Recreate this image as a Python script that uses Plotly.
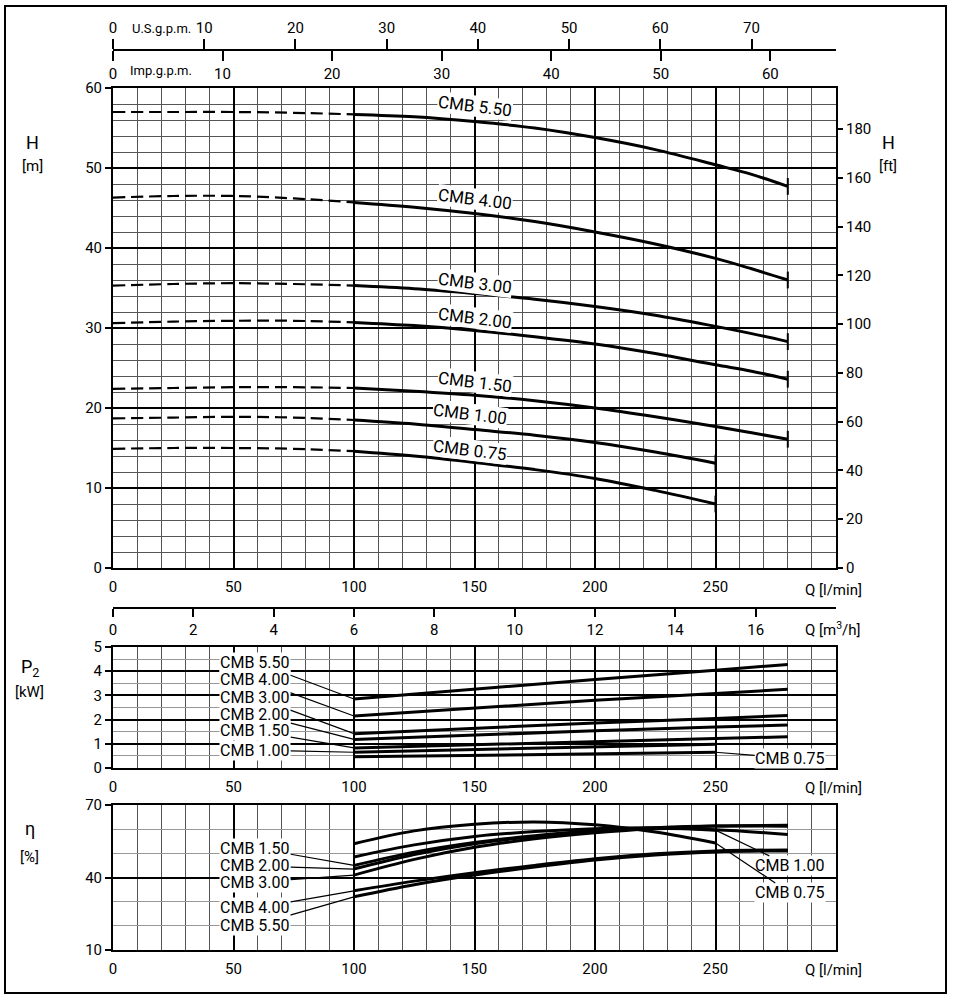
import plotly.graph_objects as go

W, H = 953, 1000
FONT = "Roboto, Liberation Sans, sans-serif"

models = ["CMB 5.50", "CMB 4.00", "CMB 3.00", "CMB 2.00", "CMB 1.50", "CMB 1.00", "CMB 0.75"]

# --- head curves, Q [l/min] vs H [m] ---
q_head = [0, 25, 50, 75, 100, 125, 150, 175, 200, 225, 250, 265, 280]
h_550 = [57.0, 57.0, 57.0, 56.9, 56.7, 56.4, 55.8, 55.0, 53.8, 52.3, 50.4, 49.2, 47.7]
h_400 = [46.3, 46.5, 46.5, 46.2, 45.7, 45.1, 44.3, 43.3, 42.0, 40.5, 38.7, 37.4, 36.0]
h_300 = [35.3, 35.5, 35.6, 35.5, 35.3, 34.9, 34.3, 33.6, 32.7, 31.6, 30.2, 29.3, 28.3]
h_200 = [30.6, 30.8, 30.9, 30.9, 30.7, 30.3, 29.7, 28.9, 28.0, 26.8, 25.4, 24.6, 23.6]
h_150 = [22.4, 22.5, 22.6, 22.6, 22.5, 22.1, 21.6, 20.9, 20.0, 18.9, 17.7, 16.9, 16.1]
h_100 = [18.7, 18.8, 18.9, 18.8, 18.5, 18.0, 17.3, 16.6, 15.7, 14.5, 13.1, None, None]
h_075 = [14.9, 15.0, 15.0, 14.9, 14.6, 14.0, 13.2, 12.3, 11.2, 9.7, 8.0, None, None]
head = [h_550, h_400, h_300, h_200, h_150, h_100, h_075]
head_lbl_x = [150, 150, 150, 150, 150, 148, 148]
head_lbl_y = [57.7, 46.1, 35.6, 31.3, 23.2, 19.2, 14.8]

# --- power curves P2 [kW] ---
q_p2 = [100, 150, 200, 250, 280]
p_550 = [2.85, 3.26, 3.66, 4.04, 4.28]
p_400 = [2.15, 2.48, 2.80, 3.08, 3.25]
p_300 = [1.42, 1.65, 1.86, 2.05, 2.17]
p_200 = [1.18, 1.37, 1.54, 1.69, 1.78]
p_150 = [0.83, 0.97, 1.10, 1.22, 1.29]
p_100 = [0.65, 0.76, 0.88, 0.98, None]
p_075 = [0.46, 0.53, 0.60, 0.65, None]
power = [p_550, p_400, p_300, p_200, p_150, p_100, p_075]
p2_lbl_x = [59, 59, 59, 59, 59, 59, 281]
p2_lbl_y = [4.38, 3.64, 2.93, 2.23, 1.53, 0.74, 0.40]

# --- efficiency curves eta [%] ---
q_eff = [100, 125, 150, 175, 200, 225, 250, 280]
e_550 = [32.0, 37.0, 41.0, 44.3, 47.2, 49.3, 50.6, 51.0]
e_400 = [34.5, 38.5, 42.0, 45.0, 47.8, 49.8, 51.0, 51.4]
e_300 = [41.0, 47.5, 52.5, 56.0, 58.5, 60.3, 61.3, 61.6]
e_200 = [43.5, 49.5, 54.0, 57.0, 59.2, 60.6, 61.3, 61.2]
e_150 = [45.0, 50.5, 54.5, 57.3, 59.3, 60.2, 59.8, 57.8]
e_100 = [48.5, 53.5, 57.0, 59.0, 60.2, 60.6, 59.6, None]
e_075 = [54.0, 59.3, 62.0, 63.0, 61.8, 58.8, 54.3, None]
eff = [e_550, e_400, e_300, e_200, e_150, e_100, e_075]
eff_lbl_x = [59, 59, 59, 59, 59, 281, 281]
eff_lbl_y = [20.3, 27.4, 38.1, 44.8, 52.2, 44.8, 33.6]

# unit conversions for the secondary scales
L_PER_USGAL = 3.785
L_PER_IMPGAL = 4.546
M_PER_FT = 0.3048
Q_MAX = 300


def px_x(p):
    return p / W


def px_y(p):
    return 1 - p / H


def valid(xs, ys):
    pts = [(a, b) for a, b in zip(xs, ys) if b is not None]
    return [a for a, _ in pts], [b for _, b in pts]


fig = go.Figure()

# head: dashed below 100 l/min, solid beyond, end ticks
i100 = q_head.index(100)
for h in head:
    fig.add_trace(go.Scatter(x=q_head[:i100 + 1], y=h[:i100 + 1], mode="lines",
                             line=dict(color="black", width=2.2, dash="12px,6px", shape="spline"),
                             xaxis="x", yaxis="y", hoverinfo="skip"))
    xs, ys = valid(q_head[i100:], h[i100:])
    fig.add_trace(go.Scatter(x=xs, y=ys, mode="lines",
                             line=dict(color="black", width=3, shape="spline"),
                             xaxis="x", yaxis="y", hoverinfo="skip"))
    fig.add_trace(go.Scatter(x=[xs[0], xs[-1]], y=[ys[0], ys[-1]], mode="markers",
                             marker=dict(symbol="line-ns-open", size=12, color="black",
                                         line=dict(color="black", width=2)),
                             xaxis="x", yaxis="y", hoverinfo="skip"))

for p in power:
    xs, ys = valid(q_p2, p)
    fig.add_trace(go.Scatter(x=xs, y=ys, mode="lines", line=dict(color="black", width=3),
                             xaxis="x2", yaxis="y2", hoverinfo="skip"))

for e in eff:
    xs, ys = valid(q_eff, e)
    fig.add_trace(go.Scatter(x=xs, y=ys, mode="lines", line=dict(color="black", width=3, shape="spline"),
                             xaxis="x3", yaxis="y3", hoverinfo="skip"))

# empty traces so the extra scales get drawn
for xa, ya in [("x4", "y"), ("x5", "y"), ("x6", "y2"), ("x", "y4")]:
    fig.add_trace(go.Scatter(x=[], y=[], xaxis=xa, yaxis=ya, hoverinfo="skip"))

ann = []
for m, x, y in zip(models, head_lbl_x, head_lbl_y):
    ann.append(dict(x=x, y=y, xref="x", yref="y", text=m, showarrow=False, textangle=7,
                    bgcolor="white", borderpad=0, font=dict(size=17)))

# leader labels: tip at curve start (left group) or curve end (right group)
leader = dict(showarrow=True, arrowhead=0, arrowwidth=1.2, arrowcolor="black", standoff=0,
              bgcolor="white", borderpad=0, font=dict(size=16))
for m, p, lx, ly in zip(models, power, p2_lbl_x, p2_lbl_y):
    xs, ys = valid(q_p2, p)
    tx, ty = (xs[0], ys[0]) if lx < 100 else (xs[-1], ys[-1])
    ann.append(dict(leader, x=tx, y=ty, xref="x2", yref="y2", ax=lx, ay=ly, axref="x2",
                    ayref="y2", text=m))
for m, e, lx, ly in zip(models, eff, eff_lbl_x, eff_lbl_y):
    xs, ys = valid(q_eff, e)
    tx, ty = (xs[0], ys[0]) if lx < 100 else (xs[-1], ys[-1])
    ann.append(dict(leader, x=tx, y=ty, xref="x3", yref="y3", ax=lx, ay=ly, axref="x3",
                    ayref="y3", text=m))

# axis titles / units as free text
texts = [
    ("U.S.g.p.m.", 161, 28, 13), ("Imp.g.p.m.", 161, 70, 13),
    ("H", 32, 142, 18), ("[m]", 32, 166, 15), ("H", 888, 142, 18), ("[ft]", 888, 166, 15),
    ("P<sub>2</sub>", 30, 668, 18), ("[kW]", 30, 692, 15),
    ("η", 30, 828, 18), ("[%]", 30, 857, 15),
    ("Q [l/min]", 833, 590, 15), ("Q [m<sup>3</sup>/h]", 833, 629, 15),
    ("Q [l/min]", 833, 788, 15), ("Q [l/min]", 833, 970, 15),
]
for t, x, y, s in texts:
    ann.append(dict(x=px_x(x), y=px_y(y), xref="paper", yref="paper", text=t, showarrow=False,
                    xanchor="center", yanchor="middle", font=dict(size=s)))

dom_x = [px_x(113), px_x(836)]
minor_q = list(range(10, Q_MAX, 10))
q_ticks = list(range(0, 251, 50))

qaxis = dict(domain=dom_x, range=[0, Q_MAX], tickvals=q_ticks, showgrid=True, gridcolor="black",
             gridwidth=2, minor=dict(tickvals=minor_q, showgrid=True, gridcolor="#555", gridwidth=1),
             showline=True, linecolor="black", linewidth=2, mirror=True, ticks="",
             zeroline=False, tickfont=dict(size=15), ticklabelstandoff=4, automargin=False)


def yax(dom, rng, tv, mv, mcol):
    return dict(domain=dom, range=rng, tickvals=tv, showgrid=True, gridcolor="black", gridwidth=2,
                minor=dict(tickvals=mv, showgrid=True, gridcolor=mcol, gridwidth=1),
                showline=True, linecolor="black", linewidth=2, mirror=True, ticks="outside",
                ticklen=6, tickwidth=2, tickcolor="black", zeroline=False, tickfont=dict(size=15),
                automargin=False)


top_axis = dict(anchor="free", showgrid=False, showline=True, linecolor="black", linewidth=2,
                ticks="outside", ticklen=10, tickwidth=1.5, tickcolor="black", zeroline=False,
                tickfont=dict(size=15), automargin=False)

fig.update_layout(
    width=W, height=H, autosize=False, margin=dict(l=0, r=0, t=0, b=0, autoexpand=False),
    paper_bgcolor="white", plot_bgcolor="white", showlegend=False,
    font=dict(family=FONT, color="black", size=15),
    xaxis=dict(qaxis, anchor="y"),
    xaxis2=dict(qaxis, anchor="y2"),
    xaxis3=dict(qaxis, anchor="y3"),
    yaxis=yax([px_y(568), px_y(88)], [0, 60], list(range(0, 61, 10)),
              [v for v in range(2, 60, 2) if v % 10], "#555"),
    yaxis2=yax([px_y(768), px_y(647)], [0, 5], [0, 1, 2, 3, 4, 5],
               [0.5, 1.5, 2.5, 3.5, 4.5], "#999"),
    yaxis3=yax([px_y(950), px_y(805)], [10, 70], [10, 40, 70], [20, 30, 50, 60], "#999"),
    yaxis4=dict(overlaying="y", side="right", anchor="x", range=[0, 60 / M_PER_FT],
                tickvals=list(range(0, 181, 20)), showgrid=False, ticks="outside", ticklen=6,
                tickwidth=2, tickcolor="black", showline=False, zeroline=False,
                tickfont=dict(size=15), automargin=False),
    xaxis4=dict(top_axis, overlaying="x", position=px_y(50), side="top",
                range=[0, Q_MAX / L_PER_USGAL], tickvals=list(range(0, 71, 10))),
    xaxis5=dict(top_axis, overlaying="x", position=px_y(50), side="bottom",
                range=[0, Q_MAX / L_PER_IMPGAL], tickvals=list(range(0, 61, 10))),
    xaxis6=dict(top_axis, overlaying="x2", position=px_y(608), side="bottom", ticklen=8,
                range=[0, Q_MAX * 0.06], tickvals=list(range(0, 17, 2))),
    annotations=ann,
    shapes=[dict(type="rect", xref="paper", yref="paper", x0=px_x(5), x1=px_x(946),
                 y0=px_y(993), y1=px_y(6), line=dict(color="black", width=2))],
)

# the page's default body margin would push the fixed-size figure off the window
fig.write_html("out.html", config={"displayModeBar": False},
               post_script="document.body.style.margin='0px';")
